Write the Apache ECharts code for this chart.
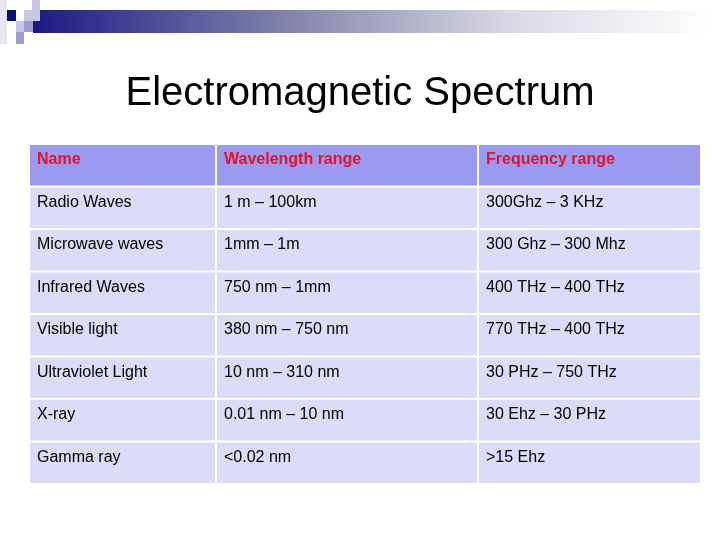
<!DOCTYPE html>
<html><head><meta charset="utf-8">
<script src="https://cdn.jsdelivr.net/npm/echarts@6/dist/echarts.min.js"></script>
<style>html,body{margin:0;background:#fff}#c{width:720px;height:540px}</style>
</head><body><div id="c"></div>
<script>
const headers = ['Name', 'Wavelength range', 'Frequency range'];
const names = ['Radio Waves', 'Microwave waves', 'Infrared Waves', 'Visible light', 'Ultraviolet Light', 'X-ray', 'Gamma ray'];
const wavelengths = ['1 m – 100km', '1mm – 1m', '750 nm – 1mm', '380 nm – 750 nm', '10 nm – 310 nm', '0.01 nm – 10 nm', '<0.02 nm'];
const frequencies = ['300Ghz – 3 KHz', '300 Ghz – 300 Mhz', '400 THz – 400 THz', '770 THz – 400 THz', '30 PHz – 750 THz', '30 Ehz – 30 PHz', '>15 Ehz'];
const colEdges = [0, 187, 449, 672];

const cells = [];
headers.forEach((h, c) => cells.push([c, 0, h]));
names.forEach((n, r) => {
  cells.push([0, r + 1, n]);
  cells.push([1, r + 1, wavelengths[r]]);
  cells.push([2, r + 1, frequencies[r]]);
});

const chart = echarts.init(document.getElementById('c'));
chart.setOption({
  animation: false,
  title: { text: 'Electromagnetic Spectrum', left: 'center', top: 69,
    textStyle: { fontFamily: 'Liberation Sans', fontSize: 40, fontWeight: 'normal', color: '#000' } },
  grid: { left: 30, right: 18, top: 145, bottom: 55 },
  xAxis: { type: 'value', min: 0, max: 672, show: false },
  yAxis: { type: 'value', min: 0, max: 8, inverse: true, show: false },
  graphic: [
    { type: 'rect', shape: { x: 33, y: 10, width: 680, height: 23 },
      style: { fill: new echarts.graphic.LinearGradient(0, 0, 1, 0, [
        { offset: 0, color: '#1a1a85' }, { offset: 0.4, color: '#8a8ab0' },
        { offset: 0.7, color: '#d8d8e4' }, { offset: 1, color: '#ffffff' }]) } },
    { type: 'rect', shape: { x: 0, y: 0, width: 7, height: 44 }, style: { fill: '#e6e6f2' } },
    { type: 'rect', shape: { x: 7, y: 10, width: 9, height: 11 }, style: { fill: '#0c0c7a' } },
    { type: 'rect', shape: { x: 24, y: 10, width: 16, height: 11 }, style: { fill: '#c8c8e6' } },
    { type: 'rect', shape: { x: 32, y: 0, width: 8, height: 10 }, style: { fill: '#c8c8e6' } },
    { type: 'rect', shape: { x: 16, y: 21, width: 16, height: 11 }, style: { fill: '#c8c8e6' } },
    { type: 'rect', shape: { x: 16, y: 32, width: 8, height: 12 }, style: { fill: '#9c9cc8' } },
    { type: 'rect', shape: { x: 24, y: 21, width: 9, height: 11 }, style: { fill: '#9c9cc8' } }
  ],
  series: [{
    type: 'custom',
    data: cells,
    renderItem: (params, api) => {
      const c = api.value(0), r = api.value(1);
      const p0 = api.coord([colEdges[c], r]);
      const p1 = api.coord([colEdges[c + 1], r + 1]);
      const head = r === 0;
      return {
        type: 'group',
        children: [
          { type: 'rect', shape: { x: p0[0], y: p0[1], width: p1[0] - p0[0] - 2, height: p1[1] - p0[1] - 2 },
            style: { fill: head ? '#9a9aee' : '#dcdcf8' } },
          { type: 'text', x: p0[0] + 7, y: p0[1] + 7,
            style: { text: cells[params.dataIndex][2], fill: head ? '#e8102a' : '#000',
              font: (head ? 'bold ' : '') + '16px "Liberation Sans"', textVerticalAlign: 'top' } }
        ]
      };
    }
  }]
});
</script></body></html>
